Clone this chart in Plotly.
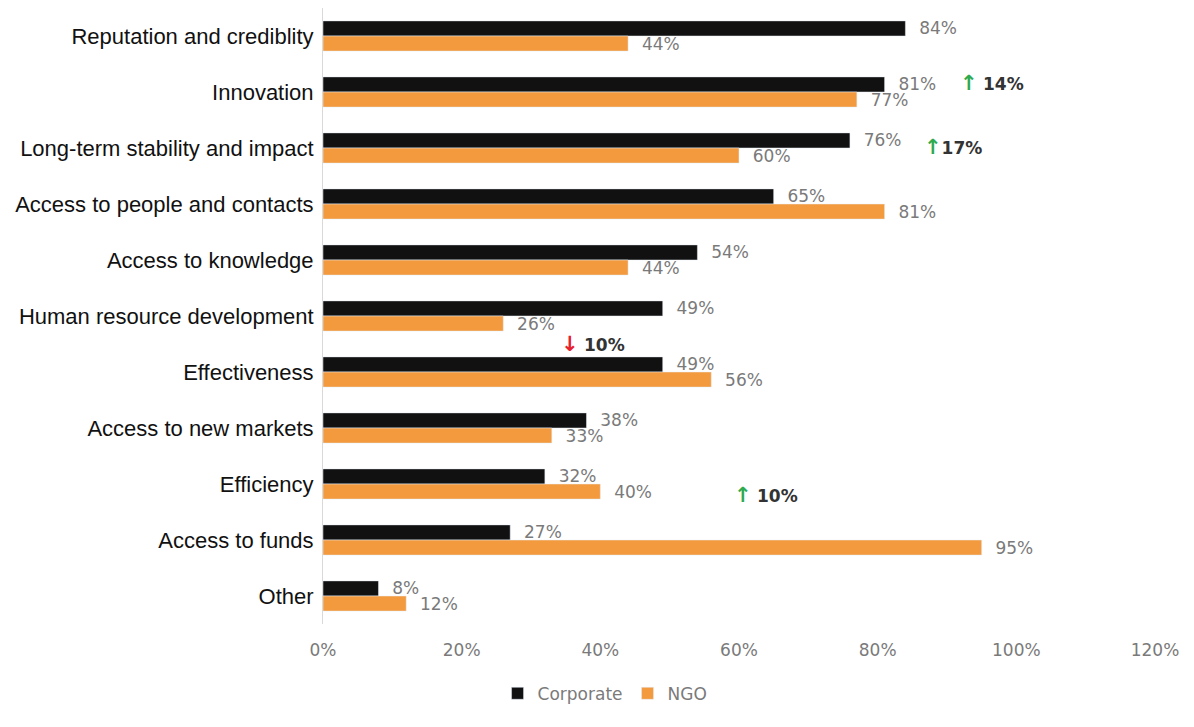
import plotly.graph_objects as go

categories = ["Reputation and crediblity", "Innovation", "Long-term stability and impact",
              "Access to people and contacts", "Access to knowledge", "Human resource development",
              "Effectiveness", "Access to new markets", "Efficiency", "Access to funds", "Other"]
corporate = [84, 81, 76, 65, 54, 49, 49, 38, 32, 27, 8]
ngo = [44, 77, 60, 81, 44, 26, 56, 33, 40, 95, 12]
tick_vals = [0, 20, 40, 60, 80, 100, 120]
tick_text = ["0%", "20%", "40%", "60%", "80%", "100%", "120%"]

# change annotations: (category, x position %, text, direction, vertical shift px)
changes = [
    ("Innovation", 91.6, "14%", "up", 9),
    ("Long-term stability and impact", 86.4, "17%", "up", 1),
    ("Effectiveness", 34.0, "10%", "down", 28),
    ("Efficiency", 59.0, "10%", "up", -11),
]

LABEL_FONT = dict(family="DejaVu Sans", size=17, color="#7a7a7a")

fig = go.Figure()
fig.add_trace(go.Bar(
    name="Corporate", y=categories, x=corporate, orientation="h",
    marker_color="#111111",
    text=[f"  {v}%" for v in corporate], textposition="outside",
    textfont=LABEL_FONT, constraintext="none", cliponaxis=False,
))
fig.add_trace(go.Bar(
    name="NGO", y=categories, x=ngo, orientation="h",
    marker_color="#F39A3E",
    text=[f"  {v}%" for v in ngo], textposition="outside",
    textfont=LABEL_FONT, constraintext="none", cliponaxis=False,
))

for cat, xpos, txt, d, ys in changes:
    arrow = "↑" if d == "up" else "↓"
    col = "#2EAA4F" if d == "up" else "#E8212E"
    sep = "" if txt == "17%" else " "
    fig.add_annotation(
        x=xpos, y=cat, xref="x", yref="y", yshift=ys,
        text=f"<span style='color:{col};font-size:21px'><b>{arrow}</b></span>{sep}<b>{txt}</b>",
        showarrow=False, xanchor="left",
        font=dict(family="DejaVu Sans", size=17, color="#333333"),
    )

fig.update_layout(
    width=1194, height=727,
    margin=dict(l=315, r=47, t=0, b=111, autoexpand=False),
    plot_bgcolor="white", paper_bgcolor="white",
    barmode="group", bargap=0.46, bargroupgap=0,
    showlegend=True,
    legend=dict(orientation="h", x=0.339, xanchor="center", y=-0.084, yanchor="top",
                font=dict(family="DejaVu Sans", size=17, color="#7a7a7a"),
                itemwidth=30, traceorder="normal"),
    xaxis=dict(range=[0, 120], tickvals=tick_vals, ticktext=tick_text,
               showgrid=False, zeroline=False, showline=False, automargin=False,
               ticks="", ticklabelstandoff=14,
               tickfont=dict(family="DejaVu Sans", size=17, color="#7a7a7a")),
    yaxis=dict(autorange="reversed", showgrid=False, showline=True, automargin=False,
               linecolor="#d9d9d9", linewidth=1, ticks="", ticklabelstandoff=4,
               tickfont=dict(family="Liberation Sans", size=22, color="#111111")),
)

fig.write_html("out.html")
